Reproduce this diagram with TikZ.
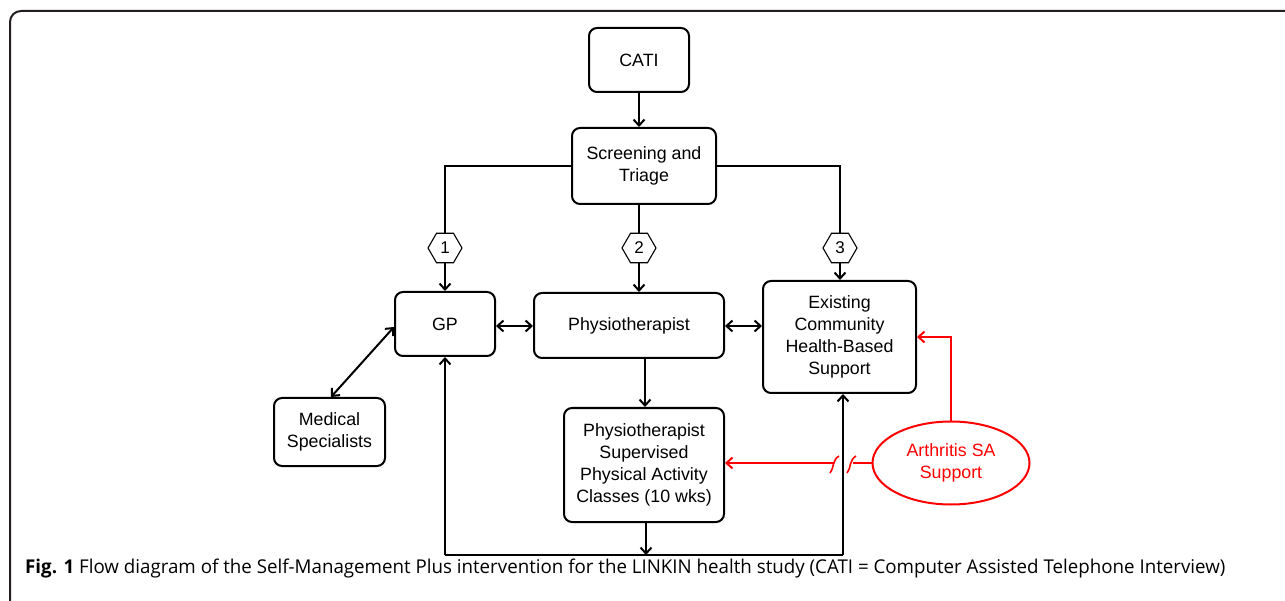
\documentclass[tikz,border=0pt]{standalone}
\usepackage{fontspec}
\setmainfont{Liberation Sans}
\newfontfamily\capfont{Open Sans}
\usepackage{graphicx}
\usetikzlibrary{arrows.meta,shapes.geometric}
\definecolor{frame}{HTML}{231F20}
\definecolor{redc}{HTML}{FF0000}
\begin{document}
\begin{tikzpicture}[x=1pt,y=-1pt,
  box/.style={draw=black,line width=2pt,rounded corners=8pt,align=center,
    font=\fontsize{17.8}{22}\selectfont,inner sep=0pt},
  hept/.style={draw=black,line width=1.1pt,regular polygon,regular polygon sides=6,
    minimum size=34pt,inner sep=0pt,font=\fontsize{17}{18}\selectfont,fill=white},
  conn/.style={line width=2pt,draw=black},
  arr/.style={conn,-{Straight Barb[length=6pt,width=11pt]}},
  darr/.style={conn,{Straight Barb[length=6pt,width=11pt]}-{Straight Barb[length=6pt,width=11pt]}},
  rline/.style={line width=2pt,draw=redc},
  rarr/.style={rline,-{Straight Barb[length=6pt,width=11pt]}}]
\path[use as bounding box] (0,0) rectangle (1285,601);
\begin{scope}
\clip (0,0) rectangle (1285,601);
\draw[frame,line width=2pt,rounded corners=11pt] (10,11) rectangle (1320,630);
\end{scope}
% nodes
\node[box,minimum width=100pt,minimum height=64pt] (cati) at (639,60) {CATI};
\node[box,minimum width=144pt,minimum height=76pt] (scr) at (644,166) {Screening and\\Triage};
\node[box,minimum width=100pt,minimum height=64pt] (gp) at (445,324) {GP};
\node[box,minimum width=190pt,minimum height=65pt] (phy) at (629,325.5) {Physiotherapist};
\node[box,minimum width=153pt,minimum height=112pt] (ex) at (839.5,337) {Existing\\Community\\Health-Based\\Support};
\node[box,minimum width=111pt,minimum height=68pt] (med) at (329.5,432) {Medical\\Specialists};
\node[box,minimum width=160pt,minimum height=114pt] (sup) at (644,465) {Physiotherapist\\Supervised\\Physical Activity\\Classes (10 wks)};
\node[draw=redc,line width=2pt,ellipse,minimum width=157pt,minimum height=83pt,inner sep=0pt,
  text=redc,align=center,font=\fontsize{17.8}{22}\selectfont] (asa) at (951,463) {Arthritis SA\\Support};
% coordinates
\coordinate (sl) at (445,166);
\coordinate (sr) at (840,166);
\coordinate (bl) at (445,555);
\coordinate (bm) at (646,555);
\coordinate (br) at (843,555);
\coordinate (rj) at (951,337);
% connectors
\draw[arr] (cati.south -| 639,0) -- (scr.north -| 639,0);
\draw[arr] (scr.west |- sl) -- (sl) -- (gp.north);
\draw[arr] (scr.south -| 639,0) -- (phy.north -| 639,0);
\draw[arr] (scr.east |- sr) -- (sr) -- (ex.north -| sr);
\node[hept] (h1) at (445,248) {1};
\node[hept] (h2) at (639,248) {2};
\node[hept] (h3) at (840,248) {3};
\draw[darr] (gp.east |- 0,326) -- (phy.west |- 0,326);
\draw[darr] (phy.east |- 0,326) -- (ex.west |- 0,326);
\draw[darr] (gp.west |- 0,327) -- (med.north -| 331,0);
\draw[arr] (phy.south -| 645,0) -- (sup.north -| 645,0);
\draw[arr] (sup.south -| bm) -- (bm);
\draw[conn] (bl) -- (br);
\draw[arr] (bl) -- (gp.south -| bl);
\draw[arr] (br) -- (ex.south -| br);
% red
\draw[rarr] (asa.north) -- (rj) -- (ex.east |- rj);
\draw[rline] (asa.west) -- (853,463);
\draw[rline,line width=1.6pt] (847,473) .. controls (851,469) and (849,460) .. (856,456);
\draw[rarr] (834,463) -- (sup.east |- 0,463);
\draw[rline,line width=1.6pt] (830,473) .. controls (834,469) and (832,460) .. (839,456);
% caption
\node[anchor=west,inner sep=0pt] (cap) at (25,569) {\resizebox{1200pt}{\height}{\capfont\fontsize{19}{22}\selectfont\textbf{Fig. 1} Flow diagram of the Self-Management Plus intervention for the LINKIN health study (CATI = Computer Assisted Telephone Interview)}};
\end{tikzpicture}
\end{document}
